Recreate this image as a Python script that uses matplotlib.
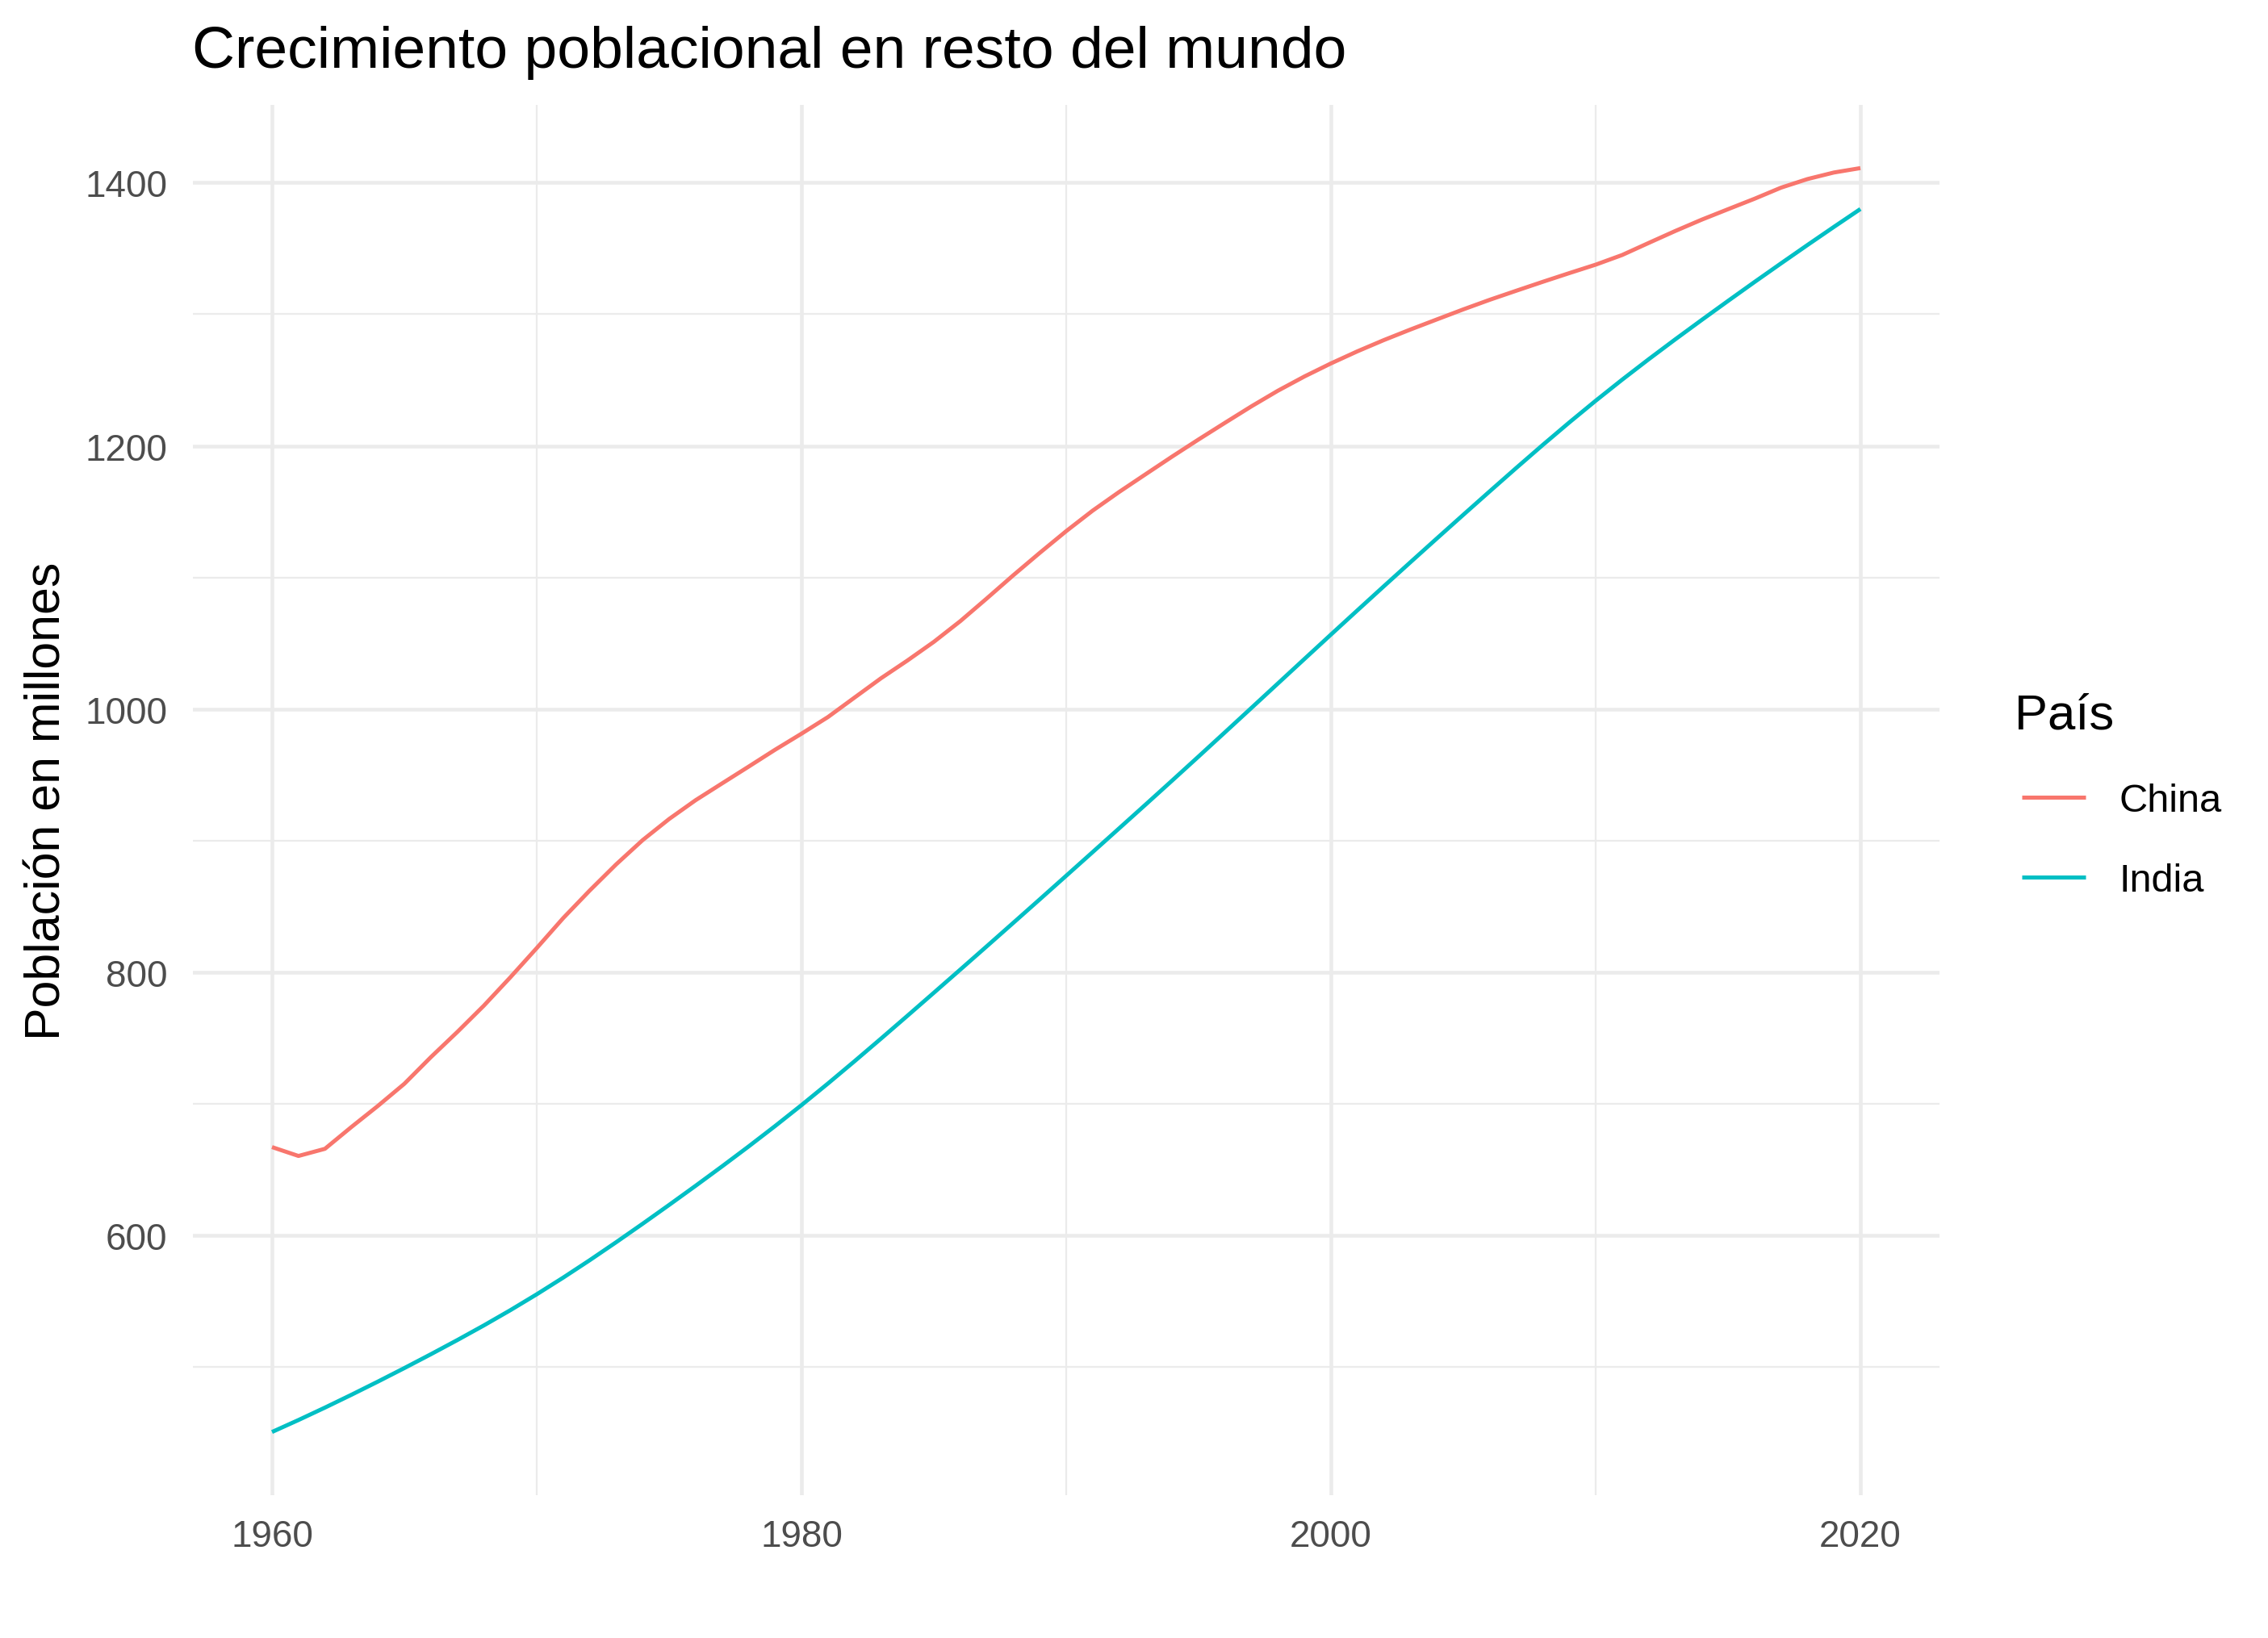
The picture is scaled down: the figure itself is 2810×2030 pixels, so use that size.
import matplotlib
matplotlib.use("Agg")
import matplotlib.pyplot as plt
from matplotlib.ticker import FixedLocator

years = list(range(1960, 2021))
china = [667.07, 660.33, 665.77, 682.34, 698.36, 715.19, 735.40, 754.55, 774.51, 796.03,
         818.32, 841.11, 862.03, 881.94, 900.35, 916.40, 930.69, 943.46, 956.17, 969.01,
         981.24, 993.89, 1008.63, 1023.31, 1036.83, 1051.04, 1066.79, 1084.04, 1101.63, 1118.65,
         1135.19, 1150.78, 1164.97, 1178.44, 1191.84, 1204.86, 1217.55, 1230.08, 1241.94, 1252.74,
         1262.65, 1271.85, 1280.40, 1288.40, 1296.08, 1303.72, 1311.02, 1317.89, 1324.66, 1331.26,
         1337.71, 1345.04, 1354.19, 1363.24, 1371.86, 1379.86, 1387.79, 1396.22, 1402.76, 1407.75,
         1411.10]
india = [450.55, 459.64, 469.08, 478.83, 488.85, 499.12, 509.63, 520.40, 531.51, 543.08,
         555.19, 567.87, 581.09, 594.77, 608.80, 623.10, 637.63, 652.41, 667.50, 682.99,
         698.95, 715.38, 732.24, 749.43, 766.83, 784.36, 801.98, 819.68, 837.47, 855.33,
         873.28, 891.27, 909.31, 927.40, 945.60, 963.92, 982.37, 1000.90, 1019.48, 1038.06,
         1056.58, 1075.00, 1093.32, 1111.52, 1129.62, 1147.61, 1165.49, 1183.21, 1200.67, 1217.73,
         1234.28, 1250.29, 1265.78, 1280.85, 1295.60, 1310.15, 1324.52, 1338.66, 1352.64, 1366.42,
         1380.00]
series_names = ["China", "India"]
series_colors = ["#F8766D", "#00BFC4"]
x_ticks = [1960, 1980, 2000, 2020]
x_minor = [1970, 1990, 2010]
y_ticks = [600, 800, 1000, 1200, 1400]
y_minor = [500, 700, 900, 1100, 1300]

title = "Crecimiento poblacional en resto del mundo"
ylabel = "Población en millones"
legend_title = "País"

plt.rcParams["font.family"] = ["Liberation Sans", "DejaVu Sans"]

W, H = 2810, 2031
DPI = 300
fig = plt.figure(figsize=(W / DPI, H / DPI), dpi=DPI)

left, right, top, bottom = 238.6, 2403.4, 131, 1854
ax = fig.add_axes([left / W, (H - bottom) / H, (right - left) / W, (bottom - top) / H])

lines = []
for vals, name, col in zip([china, india], series_names, series_colors):
    ln, = ax.plot(years, vals, color=col, lw=1.2, label=name, solid_capstyle="butt", zorder=3)
    lines.append(ln)

xmin, xmax = min(years), max(years)
xr = xmax - xmin
ax.set_xlim(xmin - 0.05 * xr, xmax + 0.05 * xr)
allv = china + india
ymin, ymax = min(allv), max(allv)
yr = ymax - ymin
ax.set_ylim(ymin - 0.05 * yr, ymax + 0.05 * yr)

ax.xaxis.set_major_locator(FixedLocator(x_ticks))
ax.xaxis.set_minor_locator(FixedLocator(x_minor))
ax.yaxis.set_major_locator(FixedLocator(y_ticks))
ax.yaxis.set_minor_locator(FixedLocator(y_minor))

ax.grid(which="major", color="#EBEBEB", lw=1.1, zorder=0)
ax.grid(which="minor", color="#EBEBEB", lw=0.55, zorder=0)
ax.set_axisbelow(True)
for s in ax.spines.values():
    s.set_visible(False)
ax.tick_params(which="both", length=0)
ax.tick_params(axis="x", labelsize=11, labelcolor="#4D4D4D", pad=1)
ax.tick_params(axis="y", labelsize=11, labelcolor="#4D4D4D", pad=7.5)

fig.text(238 / W, (H - 84) / H, title, fontsize=17.6, color="black", ha="left", va="baseline")
fig.text(59 / W, (H - (top + bottom) / 2) / H, ylabel, fontsize=14.6, rotation=90,
         ha="center", va="center")

# legend title
fig.text(2496 / W, (H - 904) / H, legend_title, fontsize=14.8, ha="left", va="baseline")

# legend entries
target_x0 = 2505      # left end of first key line (px)
target_y0 = 989       # centre of China key line (px from top)
leg = fig.legend(handles=lines, labels=series_names,
                 loc="upper left", bbox_to_anchor=(target_x0 / W, (H - target_y0) / H),
                 frameon=False, fontsize=11.7,
                 handlelength=1.62, handletextpad=0.85, labelspacing=1.1,
                 borderpad=0, borderaxespad=0)
for lh in leg.get_lines():
    lh.set_linewidth(1.2)

fig.canvas.draw()
lh0 = leg.get_lines()[0]
bb = lh0.get_window_extent()
dx = target_x0 - bb.x0
dy = (H - target_y0) - (bb.y0 + bb.y1) / 2
leg.set_bbox_to_anchor(((target_x0 + dx) / W, (H - target_y0 + dy) / H), transform=fig.transFigure)

# place x tick labels so the digit tops sit ~31 px below the panel
renderer = fig.canvas.get_renderer()
lab = [t for t in ax.get_xticklabels() if t.get_text()][0]
tb = lab.get_window_extent(renderer)
cur_top = H - tb.y1
target_top = 1883
extra_px = target_top - cur_top
ax.tick_params(axis="x", pad=1 + extra_px * 72 / DPI)

fig.savefig("out.png", dpi=DPI)
